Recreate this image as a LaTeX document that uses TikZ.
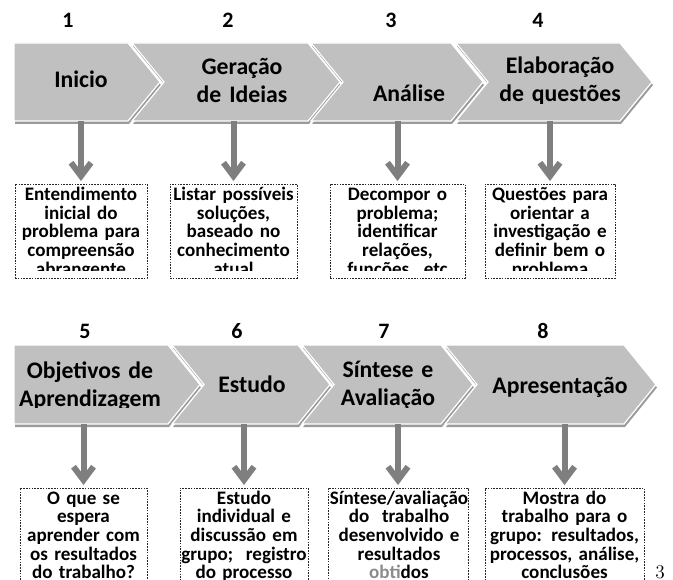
\documentclass[tikz,border=0pt]{standalone}
\usepackage{fontspec}
\newfontfamily\cb{Carlito}
\usetikzlibrary{arrows.meta,fit}
\definecolor{chevgray}{HTML}{C0C0C0}
\definecolor{chevdark}{HTML}{9A9A9A}
\definecolor{arrgray}{HTML}{7F7F7F}
\definecolor{txtgray}{HTML}{8C8C8C}
\newcommand\chevshape[5]{%
  \path[chevshadow] ({#1+1},{#3+3}) -- ({#2+1},{#3+3}) -- ({#2+33},{(#3+#4)/2+3}) -- ({#2+1},{#4+3}) -- ({#1+1},{#4+3}) -- ({#1+#5+1},{(#3+#4)/2+3}) -- cycle;
  \path[chevfill] (#1,#3) -- (#2,#3) -- ({#2+32},{(#3+#4)/2}) -- (#2,#4) -- (#1,#4) -- ({#1+#5},{(#3+#4)/2}) -- cycle;
}
\begin{document}
\begin{tikzpicture}[x=0.75pt,y=-0.75pt,
  chevfill/.style={fill=chevgray, draw=white, line width=0.9pt},
  chevshadow/.style={fill=chevdark},
  chevbody/.style={inner sep=0pt, outer sep=0pt, draw=none},
  num/.style={font=\cb\bfseries\fontsize{16.5}{18}\selectfont, anchor=base, inner sep=0pt},
  chevtext/.style={font=\cb\bfseries\fontsize{17.8}{21}\selectfont, align=center, text width=150pt, anchor=base, inner sep=0pt},
  boxtext/.style={font=\cb\bfseries\fontsize{14.3}{14}\selectfont, align=center, text width=120pt, anchor=base, inner sep=0pt},
  infobox/.style={draw=black!85, line width=0.5pt, dash pattern=on 1.2pt off 0.9pt, inner sep=0pt, outer sep=0pt},
  arr/.style={draw=arrgray, line width=4.5pt, -{Straight Barb[length=10pt,width=15pt]}, shorten >=2.2pt}
]
\clip (0,0) rectangle (673,580);
% ---------- row 1 chevrons
\chevshape{14}{128}{43}{121}{0}
\chevshape{132}{308}{43}{121}{32}
\chevshape{311}{451}{43}{121}{32}
\chevshape{456}{620}{43}{121}{32}
\node[chevbody, fit={(14,43) (128,121)}] (c1) {};
\node[chevbody, fit={(132,43) (308,121)}] (c2) {};
\node[chevbody, fit={(311,43) (451,121)}] (c3) {};
\node[chevbody, fit={(456,43) (620,121)}] (c4) {};
% ---------- row 2 chevrons
\chevshape{14}{168}{345}{424}{0}
\chevshape{172}{298}{345}{424}{32}
\chevshape{302}{441}{345}{424}{32}
\chevshape{445}{624}{345}{424}{32}
\node[chevbody, fit={(14,345) (168,424)}] (c5) {};
\node[chevbody, fit={(172,345) (298,424)}] (c6) {};
\node[chevbody, fit={(302,345) (441,424)}] (c7) {};
\node[chevbody, fit={(445,345) (624,424)}] (c8) {};
% ---------- numbers
\begin{scope}
\clip (0,0) rectangle (673,28.8);
\node[num] (n1) at (68,28) {1};
\node[num] (n2) at (228,28) {2};
\node[num] (n3) at (391,28) {3};
\node[num] (n4) at (538,28) {4};
\end{scope}
\begin{scope}
\clip (0,300) rectangle (673,338.8);
\node[num] (n5) at (85,338) {5};
\node[num] (n6) at (237,338) {6};
\node[num] (n7) at (384,338) {7};
\node[num] (n8) at (543,338) {8};
\end{scope}
% ---------- chevron texts
\begin{scope}
\clip (0,43) rectangle (673,104);
\node[chevtext] (t1) at (81,88) {Inicio};
\node[chevtext] (t2) at (242,75) {Geração\\de Ideias};
\node[chevtext] (t3) at (409,102) {Análise};
\node[chevtext] (t4) at (560,74) {Elaboração\\de questões};
\end{scope}
\begin{scope}
\clip (0,345) rectangle (673,407);
\node[chevtext] (t5) at (90,378) {Objetivos de\\Aprendizagem};
\node[chevtext] (t6) at (252,392) {Estudo};
\node[chevtext] (t7) at (388,377) {Síntese e\\Avaliação};
\node[chevtext] (t8) at (560,393) {Apresentação};
\end{scope}
% ---------- boxes
\node[infobox, fit={(15,184) (147,278)}] (b1) {};
\node[infobox, fit={(170,184) (297,278)}] (b2) {};
\node[infobox, fit={(330,184) (465,278)}] (b3) {};
\node[infobox, fit={(485,184) (615,278)}] (b4) {};
\node[infobox, fit={(20,488) (147,600)}] (b5) {};
\node[infobox, fit={(180,488) (308,600)}] (b6) {};
\node[infobox, fit={(328,488) (468,600)}] (b7) {};
\node[infobox, fit={(485,488) (644,600)}] (b8) {};
% ---------- box texts
\begin{scope}
\clip (0,184) rectangle (673,271);
\node[boxtext] (l1) at (81,200.5) {Entendimento\\inicial do\\problema para\\compreensão\\abrangente};
\node[boxtext] (l2) at (233.5,200.5) {Listar possíveis\\soluções,\\baseado no\\conhecimento\\atual};
\node[boxtext] (l3) at (397.5,200.5) {Decompor o\\problema;\\identificar\\relações,\\funções. etc};
\node[boxtext] (l4) at (550,200.5) {Questões para\\orientar a\\investigação e\\definir bem o\\problema};
\end{scope}
\node[boxtext] (l5) at (83.5,504) {O que se\\espera\\aprender com\\os resultados\\do trabalho?};
\node[boxtext] (l6) at (244,504) {Estudo\\individual e\\discussão em\\grupo;~ registro\\do processo};
\node[boxtext] (l7) at (399,504) {Síntese/avaliação\\do~ trabalho\\desenvolvido e\\resultados\\{\color{txtgray}obti}dos};
\node[boxtext] (l8) at (564.5,504) {Mostra do\\trabalho para o\\grupo: resultados,\\processos, análise,\\conclusões};
% ---------- arrows
\draw[arr] (c1.south -| b1.north) -- (b1.north);
\draw[arr] (c2.south -| b2.north) -- (b2.north);
\draw[arr] (c3.south -| b3.north) -- (b3.north);
\draw[arr] (c4.south -| b4.north) -- (b4.north);
\draw[arr] (c5.south -| b5.north) -- (b5.north);
\draw[arr] (c6.south -| b6.north) -- (b6.north);
\draw[arr] (c7.south -| b7.north) -- (b7.north);
\draw[arr] (c8.south -| b8.north) -- (b8.north);
% ---------- page number
\node[font=\fontsize{14.5}{16}\selectfont, anchor=base, inner sep=0pt] (pg) at (660,578) {3};
\end{tikzpicture}
\end{document}
